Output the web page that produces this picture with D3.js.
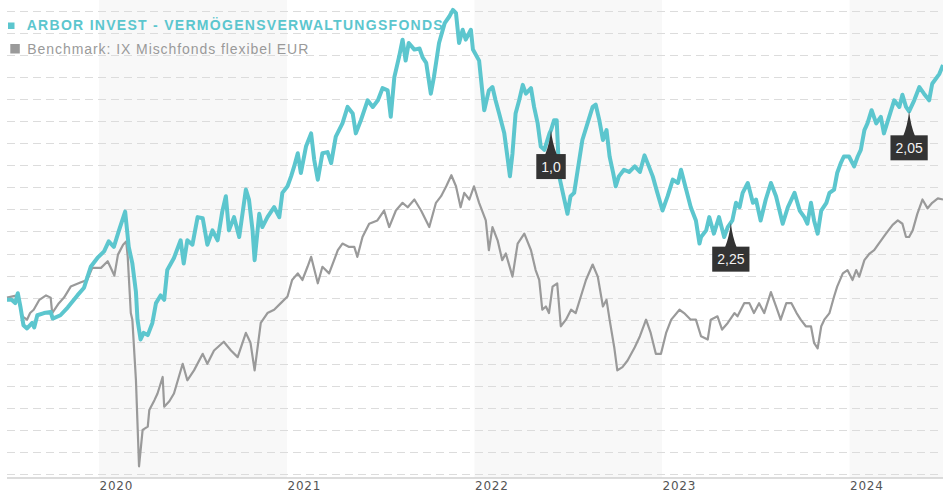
<!DOCTYPE html>
<html><head><meta charset="utf-8">
<script src="https://cdn.jsdelivr.net/npm/d3@7"></script>
<style>
html,body{margin:0;padding:0;background:#fff;}
svg{display:block;}
</style></head>
<body>
<svg id="chart" width="943" height="496"></svg>
<script>
// ---- data ----
const fundName = "ARBOR INVEST - VERMÖGENSVERWALTUNGSFONDS";
const benchName = "Benchmark: IX Mischfonds flexibel EUR";
const yearTicks = ["2020-01-01","2021-01-01","2022-01-01","2023-01-01","2024-01-01"];
const shadedYears = [["2020-01-01","2021-01-01"],["2022-01-01","2023-01-01"],["2024-01-01","2024-07-01"]];
const markerDates = ["2022-05-30","2023-05-15","2024-04-26"];
const markerLabels = ["1,0","2,25","2,05"];

const fundSeries = [["2019-07-06",99.8],["2019-07-15",99.8],["2019-07-22",99.5],["2019-07-27",100.4],["2019-08-01",99.2],["2019-08-07",97.5],["2019-08-14",97.2],["2019-08-24",97.7],["2019-08-28",97.3],["2019-09-03",98.4],["2019-09-16",98.6],["2019-09-29",98.7],["2019-10-03",98.1],["2019-10-18",98.4],["2019-11-01",99.1],["2019-11-20",100.2],["2019-12-03",100.9],["2019-12-16",102.8],["2019-12-29",103.6],["2020-01-11",104.2],["2020-01-20",105.1],["2020-01-30",104.6],["2020-02-09",106.1],["2020-02-21",107.8],["2020-02-28",104.6],["2020-03-06",103.1],["2020-03-13",100.5],["2020-03-16",98.0],["2020-03-22",96.2],["2020-03-28",96.8],["2020-04-05",96.6],["2020-04-14",97.7],["2020-04-21",99.5],["2020-04-30",100.2],["2020-05-07",99.8],["2020-05-13",102.5],["2020-05-26",103.6],["2020-06-08",105.2],["2020-06-14",103.1],["2020-06-21",105.2],["2020-07-01",104.8],["2020-07-11",107.3],["2020-07-21",107.2],["2020-07-30",104.8],["2020-08-09",106.1],["2020-08-19",105.2],["2020-08-28",107.8],["2020-09-04",109.2],["2020-09-10",106.1],["2020-09-20",107.3],["2020-09-30",105.5],["2020-10-13",109.8],["2020-10-19",108.9],["2020-10-26",106.1],["2020-10-30",103.4],["2020-11-08",107.6],["2020-11-14",106.4],["2020-11-24",107.3],["2020-12-07",108.2],["2020-12-17",107.3],["2020-12-23",109.5],["2021-01-02",110.1],["2021-01-09",111.0],["2021-01-15",111.9],["2021-01-22",113.1],["2021-01-28",111.3],["2021-02-07",113.7],["2021-02-17",114.9],["2021-02-23",112.5],["2021-03-02",110.7],["2021-03-11",113.1],["2021-03-21",113.2],["2021-03-28",112.2],["2021-04-06",114.6],["2021-04-19",115.8],["2021-04-29",117.3],["2021-05-09",116.7],["2021-05-15",114.9],["2021-05-25",116.1],["2021-06-07",117.9],["2021-06-17",117.3],["2021-06-27",117.9],["2021-07-06",119.0],["2021-07-16",118.8],["2021-07-22",116.4],["2021-07-29",120.0],["2021-08-07",121.8],["2021-08-14",123.4],["2021-08-20",121.5],["2021-08-26",123.1],["2021-09-06",122.5],["2021-09-16",122.6],["2021-09-22",121.8],["2021-09-29",121.3],["2021-10-08",118.5],["2021-10-14",120.0],["2021-10-24",123.1],["2021-11-04",124.9],["2021-11-13",125.5],["2021-11-20",126.1],["2021-11-26",125.8],["2021-12-02",123.1],["2021-12-09",124.3],["2021-12-15",123.4],["2021-12-25",124.3],["2021-12-29",122.5],["2022-01-10",121.5],["2022-01-20",117.0],["2022-01-29",118.8],["2022-02-05",119.1],["2022-02-11",117.9],["2022-02-18",116.7],["2022-02-28",114.9],["2022-03-06",112.8],["2022-03-11",111.0],["2022-03-16",113.1],["2022-03-22",116.7],["2022-03-29",117.9],["2022-04-05",119.3],["2022-04-11",118.5],["2022-04-21",119.0],["2022-04-27",117.3],["2022-05-04",115.8],["2022-05-10",113.7],["2022-05-17",113.4],["2022-05-27",114.9],["2022-05-30",115.2],["2022-06-05",116.1],["2022-06-10",116.1],["2022-06-15",111.0],["2022-06-22",109.5],["2022-07-01",107.6],["2022-07-07",109.2],["2022-07-14",109.5],["2022-07-20",111.3],["2022-07-30",114.3],["2022-08-09",115.8],["2022-08-19",117.3],["2022-08-25",117.5],["2022-09-01",116.1],["2022-09-08",114.3],["2022-09-15",115.2],["2022-09-21",112.8],["2022-09-28",111.3],["2022-10-03",110.1],["2022-10-09",111.0],["2022-10-19",111.6],["2022-10-29",111.4],["2022-11-09",111.9],["2022-11-19",111.4],["2022-11-28",112.9],["2022-12-04",112.2],["2022-12-14",111.0],["2022-12-23",109.5],["2023-01-02",107.9],["2023-01-12",109.2],["2023-01-22",110.7],["2023-02-01",110.4],["2023-02-07",111.6],["2023-02-17",109.8],["2023-02-26",108.2],["2023-03-08",107.0],["2023-03-15",104.9],["2023-03-18",105.5],["2023-03-28",106.1],["2023-04-03",107.3],["2023-04-12",105.8],["2023-04-22",107.3],["2023-05-02",105.5],["2023-05-09",106.4],["2023-05-18",107.0],["2023-05-25",108.6],["2023-06-01",108.2],["2023-06-07",109.5],["2023-06-17",110.4],["2023-06-27",108.6],["2023-07-03",108.9],["2023-07-12",107.0],["2023-07-22",108.9],["2023-08-01",110.4],["2023-08-11",109.2],["2023-08-24",106.7],["2023-09-03",108.2],["2023-09-16",109.5],["2023-09-26",107.9],["2023-10-05",107.3],["2023-10-11",106.7],["2023-10-18",108.6],["2023-10-24",107.0],["2023-10-31",105.8],["2023-11-07",107.9],["2023-11-17",108.6],["2023-11-23",109.5],["2023-12-02",109.8],["2023-12-08",111.3],["2023-12-15",112.2],["2023-12-21",112.8],["2023-12-31",112.8],["2024-01-10",111.9],["2024-01-17",112.8],["2024-01-23",113.4],["2024-01-30",115.2],["2024-02-05",115.8],["2024-02-13",117.0],["2024-02-22",115.8],["2024-03-02",116.4],["2024-03-08",114.9],["2024-03-18",116.4],["2024-03-28",117.9],["2024-04-07",117.3],["2024-04-13",118.4],["2024-04-20",117.3],["2024-04-26",116.9],["2024-05-06",117.9],["2024-05-16",119.1],["2024-05-25",118.5],["2024-06-04",117.9],["2024-06-10",119.4],["2024-06-24",120.3],["2024-07-01",121.1]];

const benchSeries = [["2019-07-06",100.0],["2019-07-26",100.2],["2019-08-05",98.3],["2019-08-14",98.0],["2019-08-20",98.6],["2019-08-27",98.9],["2019-09-07",99.8],["2019-09-20",100.2],["2019-09-29",100.0],["2019-10-02",98.6],["2019-10-15",99.5],["2019-10-25",100.0],["2019-11-07",101.0],["2019-11-27",101.4],["2019-12-09",101.6],["2019-12-19",102.7],["2020-01-05",102.7],["2020-01-18",103.3],["2020-01-31",102.0],["2020-02-07",103.9],["2020-02-17",104.8],["2020-02-23",105.1],["2020-02-26",103.7],["2020-03-03",98.6],["2020-03-06",98.0],["2020-03-13",92.5],["2020-03-19",84.7],["2020-03-26",88.0],["2020-04-05",88.3],["2020-04-08",89.8],["2020-04-18",90.7],["2020-04-24",91.3],["2020-05-04",92.8],["2020-05-07",90.1],["2020-05-17",90.6],["2020-05-26",91.3],["2020-06-12",94.0],["2020-06-21",92.5],["2020-07-04",93.4],["2020-07-21",94.9],["2020-07-30",94.0],["2020-08-12",95.2],["2020-08-31",96.0],["2020-09-14",95.2],["2020-09-27",94.6],["2020-10-13",96.8],["2020-10-22",95.9],["2020-10-30",93.4],["2020-11-11",97.7],["2020-11-24",98.6],["2020-12-07",98.9],["2020-12-20",99.5],["2021-01-02",100.1],["2021-01-11",101.6],["2021-01-22",102.2],["2021-01-31",101.6],["2021-02-10",102.8],["2021-02-17",103.7],["2021-03-02",101.3],["2021-03-11",102.8],["2021-03-24",102.2],["2021-04-10",104.3],["2021-04-19",104.9],["2021-05-02",104.6],["2021-05-12",104.6],["2021-05-18",103.7],["2021-05-28",105.5],["2021-06-10",106.7],["2021-06-26",107.0],["2021-07-09",107.9],["2021-07-19",106.4],["2021-08-01",107.9],["2021-08-14",108.6],["2021-08-24",108.2],["2021-09-06",108.9],["2021-09-19",107.9],["2021-10-05",106.4],["2021-10-18",108.6],["2021-10-28",109.2],["2021-11-07",110.1],["2021-11-17",111.1],["2021-11-26",110.1],["2021-12-05",108.2],["2021-12-12",109.5],["2021-12-22",108.9],["2021-12-31",110.1],["2022-01-10",108.6],["2022-01-23",107.0],["2022-01-29",104.3],["2022-02-05",106.4],["2022-02-15",105.2],["2022-02-24",103.4],["2022-03-03",104.0],["2022-03-16",101.9],["2022-03-26",104.9],["2022-04-08",105.8],["2022-04-21",104.3],["2022-04-30",102.5],["2022-05-07",101.6],["2022-05-13",98.9],["2022-05-20",99.2],["2022-05-26",98.6],["2022-06-02",101.0],["2022-06-11",101.3],["2022-06-18",97.4],["2022-06-28",98.0],["2022-07-08",98.9],["2022-07-17",98.6],["2022-07-27",100.1],["2022-08-06",101.6],["2022-08-19",103.0],["2022-08-29",101.9],["2022-09-08",99.2],["2022-09-15",99.8],["2022-09-21",98.0],["2022-09-30",95.5],["2022-10-06",93.4],["2022-10-16",93.7],["2022-10-26",94.3],["2022-11-09",95.5],["2022-11-19",96.5],["2022-12-01",98.0],["2022-12-10",96.8],["2022-12-20",94.9],["2022-12-30",94.9],["2023-01-09",96.8],["2023-01-19",98.0],["2023-02-04",98.9],["2023-02-13",98.6],["2023-02-26",98.0],["2023-03-08",98.0],["2023-03-18",96.5],["2023-03-31",96.2],["2023-04-06",98.0],["2023-04-19",98.3],["2023-04-28",97.1],["2023-05-09",97.7],["2023-05-22",98.6],["2023-05-28",98.3],["2023-06-10",99.5],["2023-06-20",99.5],["2023-06-29",98.6],["2023-07-09",99.5],["2023-07-19",98.6],["2023-08-01",100.5],["2023-08-11",99.2],["2023-08-20",98.0],["2023-08-31",99.5],["2023-09-10",99.5],["2023-09-20",98.6],["2023-09-28",98.0],["2023-10-08",97.4],["2023-10-18",97.4],["2023-10-24",95.9],["2023-10-31",95.4],["2023-11-07",97.4],["2023-11-13",98.0],["2023-11-23",98.6],["2023-12-02",100.1],["2023-12-08",101.0],["2023-12-19",102.2],["2023-12-28",102.5],["2024-01-07",101.6],["2024-01-14",102.5],["2024-01-20",101.9],["2024-01-30",103.4],["2024-02-09",104.0],["2024-02-18",104.3],["2024-02-27",104.9],["2024-03-12",105.8],["2024-03-25",106.6],["2024-04-04",107.0],["2024-04-13",106.7],["2024-04-20",105.5],["2024-04-26",105.5],["2024-05-03",106.1],["2024-05-12",107.6],["2024-05-22",108.9],["2024-06-01",108.1],["2024-06-10",108.6],["2024-06-21",109.0],["2024-07-01",108.9]];

// ---- chart ----
(function () {
const parse = d3.utcParse("%Y-%m-%d");
const fund = fundSeries.map(d => ({date: parse(d[0]), value: d[1]}));
const bench = benchSeries.map(d => ({date: parse(d[0]), value: d[1]}));

const mLeft = 7, mRight = 943, mTop = 11, mBottom = 474, axisY = 478;
const svg = d3.select("#chart");

const x = d3.scaleUtc()
  .domain([parse("2019-07-06"), parse("2024-07-01")])
  .range([mLeft, mRight]);
const y = d3.scaleLinear().domain([84, 126]).range([mBottom, mTop]);

// shaded year bands
svg.append("g").selectAll("rect").data(shadedYears).join("rect")
  .attr("x", d => x(parse(d[0])))
  .attr("width", d => Math.min(mRight, x(parse(d[1]))) - x(parse(d[0])))
  .attr("y", 0).attr("height", axisY)
  .attr("fill", "#f8f8f8");

// gridlines
svg.append("g").selectAll("line").data(y.ticks(20)).join("line")
  .attr("x1", mLeft).attr("x2", mRight)
  .attr("y1", d => Math.round(y(d)) + 0.5).attr("y2", d => Math.round(y(d)) + 0.5)
  .attr("stroke", "#dcdcdc").attr("stroke-width", 1)
  .attr("stroke-dasharray", "8,5");

// x axis
const xAxis = d3.axisBottom(x)
  .tickValues(yearTicks.map(parse))
  .tickFormat(d3.utcFormat("%Y"))
  .tickSize(0).tickPadding(0);
const ax = svg.append("g").attr("transform", `translate(0,${axisY})`).call(xAxis);
ax.select(".domain").attr("stroke", "#d0d0d0").attr("stroke-width", 1.5)
  .attr("d", `M${mLeft},0H${mRight}`);
ax.selectAll("text")
  .attr("text-anchor", "start").attr("dx", 0).attr("y", 11.5).attr("dy", 0)
  .attr("fill", "#555").style("font-family", "'DejaVu Sans', Verdana, sans-serif")
  .style("font-size", "12px").style("letter-spacing", "0.8px");

// lines
const line = d3.line().x(d => x(d.date)).y(d => y(d.value)).curve(d3.curveLinear);
svg.append("path").datum(bench).attr("d", line)
  .attr("fill", "none").attr("stroke", "#9a9a9a").attr("stroke-width", 2.2)
  .attr("stroke-linejoin", "round");
svg.append("path").datum(fund).attr("d", line)
  .attr("fill", "none").attr("stroke", "#5cc6ce").attr("stroke-width", 4)
  .attr("stroke-linejoin", "round");

// legend
const lg = svg.append("g");
lg.append("rect").attr("x", 8).attr("y", 22.5).attr("width", 6.5).attr("height", 6.5).attr("fill", "#5cc6ce");
lg.append("text").attr("x", 26.7).attr("y", 29.5).text(fundName)
  .attr("fill", "#5cc6ce").style("font-family", "'Liberation Sans', Arial, sans-serif")
  .style("font-weight", "bold").style("font-size", "14px")
  .attr("textLength", 416).attr("lengthAdjust", "spacing");
lg.append("rect").attr("x", 10.3).attr("y", 44).attr("width", 9.5).attr("height", 9.5).attr("fill", "#9a9a9a");
lg.append("text").attr("x", 27.3).attr("y", 53.8).text(benchName)
  .attr("fill", "#9a9a9a").style("font-family", "'Liberation Sans', Arial, sans-serif")
  .style("font-size", "14px")
  .attr("textLength", 281).attr("lengthAdjust", "spacing");

// dividend markers
const bis = d3.bisector(d => d.date).left;
function valueAt(date) {
  const i = bis(fund, date);
  if (i <= 0) return fund[0].value;
  if (i >= fund.length) return fund[fund.length - 1].value;
  const a = fund[i - 1], b = fund[i];
  const t = (date - a.date) / (b.date - a.date);
  return a.value + t * (b.value - a.value);
}
markerDates.forEach((ds, i) => {
  const dt = parse(ds);
  const tx = x(dt), ty = y(valueAt(dt));
  const g = svg.append("g");
  const boxTop = ty + 24;
  const txt = g.append("text").attr("x", tx).attr("y", boxTop + 17.5)
    .attr("text-anchor", "middle").attr("fill", "#f2f2f2")
    .style("font-family", "'Liberation Sans', Arial, sans-serif").style("font-size", "14px")
    .text(markerLabels[i]);
  const tw = txt.node().getComputedTextLength();
  const bw = tw + 10;
  g.insert("path", "text")
    .attr("d", `M${tx},${ty} Q${tx + 1.5},${boxTop - 10} ${tx + 6},${boxTop + 1} L${tx - 6},${boxTop + 1} Q${tx - 1.5},${boxTop - 10} ${tx},${ty} Z`)
    .attr("fill", "#333");
  g.insert("rect", "text").attr("x", tx - bw / 2).attr("y", boxTop).attr("width", bw).attr("height", 25)
    .attr("fill", "#333");
});
})();
</script>
</body></html>
